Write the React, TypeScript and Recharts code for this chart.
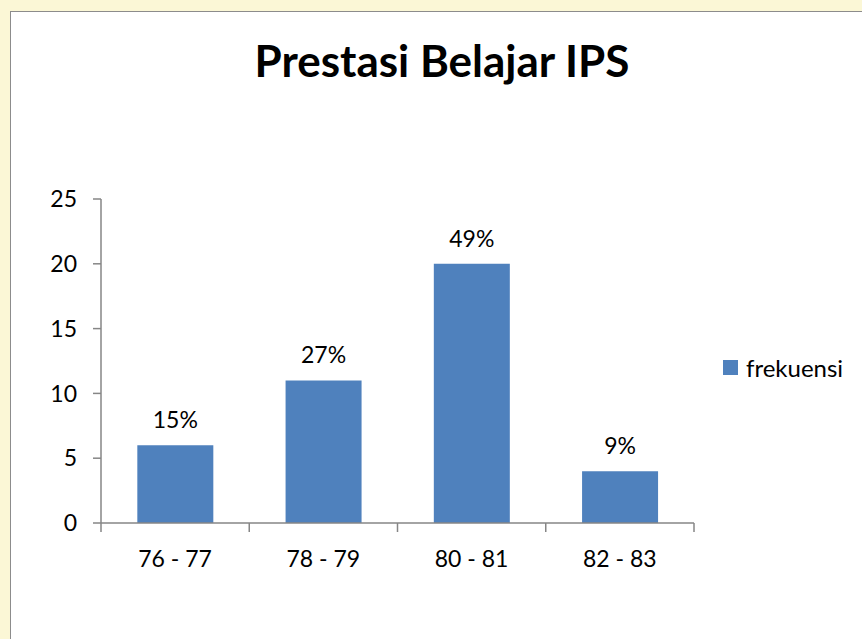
import React from 'react';
import { BarChart, Bar, XAxis, YAxis, LabelList, Legend } from 'recharts';

const categories = ['76 - 77', '78 - 79', '80 - 81', '82 - 83'];
const frekuensi = [6, 11, 20, 4];
const percentLabels = ['15%', '27%', '49%', '9%'];
const yTicks = [0, 5, 10, 15, 20, 25];
const seriesName = 'frekuensi';
const title = 'Prestasi Belajar IPS';

const data = categories.map((c, i) => ({ name: c, frekuensi: frekuensi[i], pct: percentLabels[i] }));

const FONT = 'Lato, "Open Sans", sans-serif';
const AXIS = '#868686';
const BAR = '#4F81BD';
const N = categories.length;
const FS = 23;

const XTick = (props: any) => {
  const { x, y, payload, index } = props;
  const half = payload && typeof payload.offset === 'number' && payload.offset > 0 ? payload.offset : 593 / N / 2;
  return (
    <g>
      <line x1={x - half} y1={y} x2={x - half} y2={y + 9} stroke={AXIS} strokeWidth={1.5} />
      {index === N - 1 && <line x1={x + half} y1={y} x2={x + half} y2={y + 9} stroke={AXIS} strokeWidth={1.5} />}
      <text x={x} y={y + 44} textAnchor="middle" fill="#000" fontFamily={FONT} fontSize={FS}>
        {payload.value}
      </text>
    </g>
  );
};

const PctLabel = (props: any) => {
  const { x, y, width, value } = props;
  return (
    <text x={Number(x) + Number(width) / 2} y={Number(y) - 17} textAnchor="middle" fill="#000" fontFamily={FONT} fontSize={FS}>
      {value}
    </text>
  );
};

const LegendContent = () => (
  <div style={{ display: 'flex', alignItems: 'center', fontFamily: FONT, fontSize: 24, color: '#000', whiteSpace: 'nowrap' }}>
    <span style={{ display: 'inline-block', width: 15, height: 15, background: BAR, marginRight: 8 }} />
    <span>{seriesName}</span>
  </div>
);

export default function App() {
  return (
    <div style={{ position: 'absolute', left: 0, top: 0, width: 862, height: 639, overflow: 'hidden', background: '#fbf7d6' }}>
      <div style={{ position: 'absolute', left: 10, top: 11, width: 900, height: 700, background: '#fff', border: '1.5px solid #8c8c8c' }} />
      <svg style={{ position: 'absolute', left: 0, top: 0 }} width={862} height={120}>
        <text x={442} y={77} textAnchor="middle" fontFamily={FONT} fontWeight={700} fontSize={44} fill="#000">
          {title}
        </text>
      </svg>
      <div style={{ position: 'absolute', left: 0, top: 0 }}>
        <BarChart width={862} height={639} data={data} margin={{ top: 199, right: 28, bottom: 86, left: 41 }} barCategoryGap="24.5%">
          <XAxis dataKey="name" tickSize={0} tickMargin={0} tick={<XTick />} stroke={AXIS} strokeWidth={1.5} height={30} interval={0} />
          <YAxis
            domain={[0, 25]}
            ticks={yTicks}
            width={60}
            tickSize={8}
            tickMargin={16}
            stroke={AXIS}
            strokeWidth={1.5}
            tick={{ fill: '#000', fontFamily: FONT, fontSize: FS }}
            interval={0}
          />
          <Legend layout="vertical" verticalAlign="middle" align="right" content={<LegendContent />} wrapperStyle={{ position: 'absolute', left: 723, top: 353, width: 140 }} />
          <Bar dataKey="frekuensi" name={seriesName} fill={BAR} isAnimationActive={false}>
            <LabelList dataKey="pct" content={<PctLabel />} />
          </Bar>
        </BarChart>
      </div>
    </div>
  );
}
